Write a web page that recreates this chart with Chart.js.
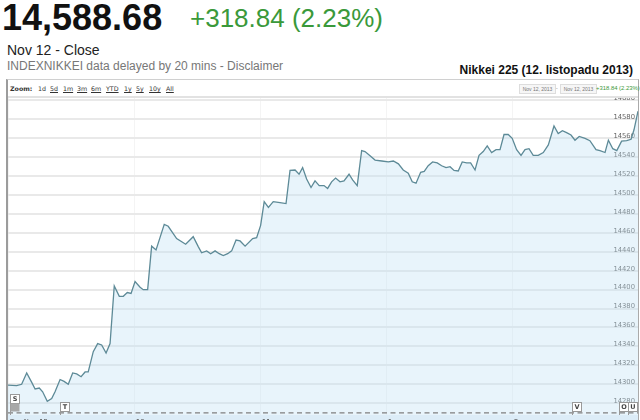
<!DOCTYPE html>
<html>
<head>
<meta charset="utf-8">
<script src="https://cdn.jsdelivr.net/npm/chart.js@4/dist/chart.umd.min.js"></script>
<style>
  html, body { margin:0; padding:0; }
  body { width:640px; height:420px; overflow:hidden; background:#fff; position:relative;
         font-family:'Liberation Sans', Arial, sans-serif; }
  .abs { position:absolute; white-space:nowrap; }
  #frame { position:absolute; left:6px; top:79px; width:630px; height:360px;
           border-left:2px solid #9c9c9c; border-top:1px solid #d0d0d0; border-right:1px solid #aaa; }
  .zb { position:absolute; top:85px; font:6.3px 'DejaVu Sans', sans-serif; line-height:8px; color:#333; text-decoration:underline; }
  .dbox { position:absolute; top:84px; height:8px; border:1px solid #ddd; background:#f6f6f6;
          font:5px 'Liberation Sans', sans-serif; line-height:8px; color:#777; text-align:center; }
</style>
</head>
<body>
<div class="abs" style="left:2px;top:0px;font:bold 36px 'Liberation Sans';line-height:36px;color:#111">14,588.68</div>
<div class="abs" style="left:190px;top:5px;font:26px 'Liberation Sans';line-height:26px;color:#3a993a">+318.84 (2.23%)</div>
<div class="abs" style="left:7px;top:43px;font:14px 'Liberation Sans';line-height:14px;color:#222">Nov 12 - Close</div>
<div class="abs" style="left:7px;top:60px;font:12px 'Liberation Sans';line-height:12px;color:#777">INDEXNIKKEI data delayed by 20 mins - Disclaimer</div>
<div class="abs" style="right:7px;top:64px;font:bold 12px 'Liberation Sans';line-height:12px;color:#111">Nikkei 225 (12. listopadu 2013)</div>

<div id="frame"></div>
<div class="zb" style="left:10px;font-weight:bold;text-decoration:none">Zoom:</div>
<div class="zb" style="left:38px;text-decoration:none">1d</div>
<div class="zb" style="left:50px">5d</div>
<div class="zb" style="left:63px">1m</div>
<div class="zb" style="left:77px">3m</div>
<div class="zb" style="left:91px">6m</div>
<div class="zb" style="left:106px">YTD</div>
<div class="zb" style="left:124px">1y</div>
<div class="zb" style="left:136px">5y</div>
<div class="zb" style="left:149px">10y</div>
<div class="zb" style="left:166px">All</div>
<div class="dbox" style="left:519px;width:35px">Nov 12, 2013</div>
<div class="abs" style="left:556px;top:84px;font:5px 'Liberation Sans';line-height:9px;color:#777">-</div>
<div class="dbox" style="left:560px;width:35px">Nov 12, 2013</div>
<div class="abs" style="left:596px;top:84px;font:5.9px 'Liberation Sans';line-height:9px;color:#3a993a">+318.84 (2.23%)</div>
<div class="abs" style="left:8px;top:96px;width:630px;height:2px;background:#e2e2e2"></div>

<canvas id="c" width="630" height="330" style="position:absolute;left:8px;top:98px"></canvas>

<script>
// minutes since 9:00 on a trading-time axis (lunch break collapsed: 150 = 11:30 = 12:30)
const minutes = [0,4.1,6.5,8.9,11.3,12.9,14.9,16.5,18.7,20.8,
  22.4,24.8,26.7,28.7,30.8,32.7,34.8,36.7,38.2,40.6,
  42.7,44.6,46.7,48.6,50.6,53,54.9,56.8,58.6,60.5,
  62.9,64.4,66.5,68.4,70.5,74.4,76.3,80.3,84.6,88.2,
  90.6,92.2,94.6,96.5,98.6,100.6,102.5,104.6,106.5,108.6,
  110.5,112.9,116.5,118.4,120.3,122,124,126.3,129.5,132.4,
  134.3,136.7,138.6,140.3,142.2,144.3,146.2,148.2,150.5,152.2,
  154.1,156,158.1,160,162.4,164.1,166.3,168.4,170,172.4,
  174.8,178,181.1,183.5,185.9,188.2,190.6,192.5,194.3,196.5,
  198.2,200.1,202.2,204.4,206.5,208.6,210.5,212.4,214.4,216.3,
  218.4,220.3,222.4,224.3,226.3,228.2,230.3,232.4,234.3,236.2,
  238.2,240.1,242.2,244.3,246.2,248.1,250.1,252.5,254.9,257.3,
  260,262,264,266,268.1,270,272,274.8,277.1,280,
  281.9,284.3,285.9,288,289.9,292.2,294.6,296.7,298.1,300];
const prices = [14299,14298.5,14300,14312,14302,14295,14296,14292,14282,14285,
  14292,14305,14303,14300,14312,14311,14308,14313,14313,14334.5,
  14343,14341.5,14333,14343,14404,14393,14393,14397,14396,14408.5,
  14402.5,14400,14400,14446,14442,14469,14467,14454,14448,14456,
  14445.5,14439,14441,14438,14441,14438,14436,14438,14441,14452.5,
  14451.5,14446,14454,14455,14468,14493,14487,14493,14492,14491,
  14526,14526.5,14522,14529,14517,14508,14515,14510,14510,14507,
  14514,14518,14514,14515,14522,14516,14510,14547,14546,14541.6,
  14537,14536,14535,14536,14533,14526.5,14523,14514,14512.5,14524,
  14525,14531,14535,14534,14531,14529,14530,14526,14525.5,14535,
  14534,14534,14526.5,14542,14546,14552,14545,14548,14548,14564,
  14564,14560,14548,14542,14548,14549,14542,14542,14545,14553,
  14573,14565,14568,14566,14563.5,14558,14562,14560,14557.5,14548,
  14547,14545,14558,14549,14547,14557,14557.5,14559,14569,14588.68];
const prevClose = 14269.84;
const yTicks = [14280,14300,14320,14340,14360,14380,14400,14420,14440,14460,14480,14500,14520,14540,14560,14580,14600];
const xTickValues = [0, 60, 120, 180, 240];
const xTickLabels = ['Tue Nov 12', '10 am', '11 am', '1 pm', '2 pm'];
const flagLabels = ['S', 'T', 'V', 'O', 'U'];
const flagTimes = [1, 24.8, 268.6, 291, 295.2];

const bandPlugin = {
  id: 'band',
  beforeDraw(chart) {
    const {ctx, chartArea, width, height} = chart;
    ctx.save();
    ctx.fillStyle = '#dcecf7';
    ctx.fillRect(0, chartArea.bottom, width, height - chartArea.bottom);
    ctx.restore();
  }
};
const flagPlugin = {
  id: 'flags',
  afterDatasetsDraw(chart) {
    const {ctx, chartArea, scales} = chart;
    const xs = scales.x;
    ctx.save();
    ctx.font = 'bold 6.5px "DejaVu Sans"';
    ctx.textAlign = 'center';
    ctx.textBaseline = 'middle';
    ctx.lineWidth = 1;
    flagLabels.forEach((lab, i) => {
      const px = Math.round(xs.getPixelForValue(flagTimes[i])) + 0.5;
      const top = chartArea.bottom - (lab === 'S' ? 21 : 13) + 0.5;
      ctx.strokeStyle = '#999';
      ctx.beginPath(); ctx.moveTo(px, top + 9); ctx.lineTo(px, chartArea.bottom); ctx.stroke();
      ctx.fillStyle = '#fff';
      ctx.fillRect(px, top, 9, 9);
      ctx.strokeRect(px, top, 9, 9);
      ctx.fillStyle = '#444';
      ctx.fillText(lab, px + 4.5, top + 5);
      if (lab === 'S') { ctx.fillStyle = '#a8a8a8'; ctx.fillRect(px, top + 9, 9, 8); }
    });
    ctx.restore();
  }
};

new Chart(document.getElementById('c'), {
  type: 'line',
  data: {
    datasets: [
      {
        data: [{x: minutes[0], y: prevClose}, {x: 300, y: prevClose}],
        borderColor: '#808080', borderWidth: 1.3, borderDash: [5, 3.5],
        pointRadius: 0, fill: false, order: 0
      },
      {
        data: minutes.map((m, i) => ({x: m, y: prices[i]})),
        borderColor: '#5d8a97', borderWidth: 1.3, tension: 0,
        pointRadius: 0, fill: 'start', backgroundColor: 'rgba(190,225,245,0.36)', order: 1
      }
    ]
  },
  options: {
    responsive: false, animation: false, events: [],
    layout: { padding: 0 },
    plugins: { legend: { display: false }, tooltip: { enabled: false } },
    scales: {
      x: {
        type: 'linear', min: 0, max: 300,
        border: { display: false },
        grid: { color: 'rgba(0,0,0,0.045)', lineWidth: 1, drawTicks: false },
        afterBuildTicks: s => { s.ticks = xTickValues.map(v => ({value: v})); },
        afterFit: s => { s.height = 13; s.paddingLeft = 0; s.paddingRight = 0; },
        ticks: {
          autoSkip: false, maxRotation: 0, align: 'start', padding: 3, labelOffset: 2,
          color: '#555', font: { family: 'DejaVu Sans', size: 6.8 },
          callback: (v, i) => xTickLabels[i]
        }
      },
      y: {
        type: 'linear', position: 'right', min: 14267.5, max: 14602.6,
        border: { display: false },
        grid: { color: '#e9e9e9', lineWidth: 2, drawTicks: false },
        afterBuildTicks: s => { s.ticks = yTicks.map(v => ({value: v})); },
        afterFit: s => { s.width = 0; s.paddingTop = 0; s.paddingBottom = 0; },
        ticks: {
          mirror: true, padding: -3, labelOffset: -2, autoSkip: false,
          color: '#666', font: { family: 'DejaVu Sans', size: 6.8 },
          callback: v => String(v)
        }
      }
    }
  },
  plugins: [bandPlugin, flagPlugin]
});
</script>
</body>
</html>
